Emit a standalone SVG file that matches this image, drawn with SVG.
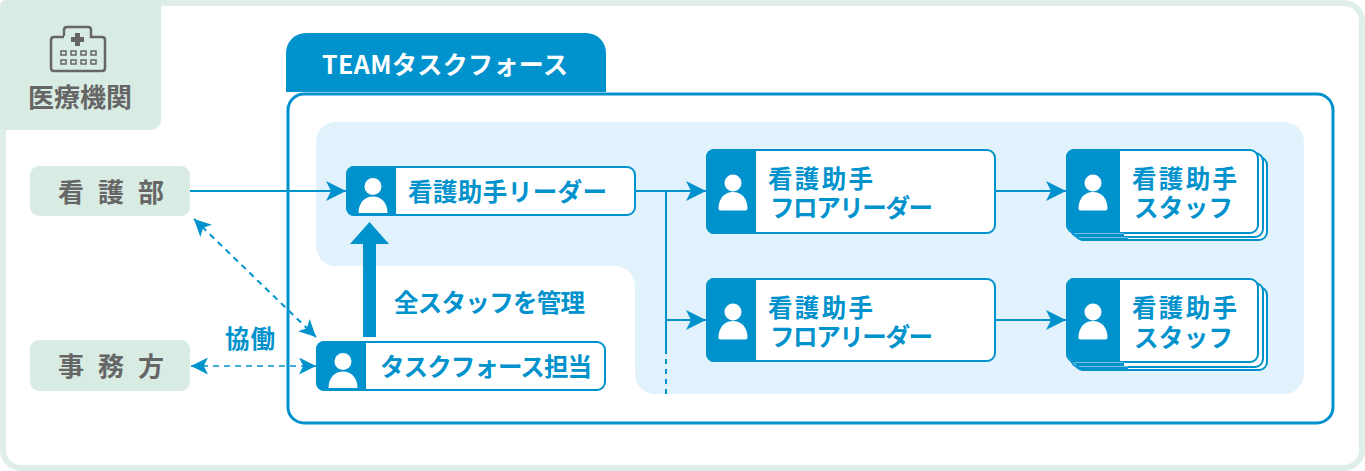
<svg xmlns="http://www.w3.org/2000/svg" width="1365" height="471" viewBox="0 0 1365 471">
<style>
text{font-family:"Noto Sans CJK JP","Noto Sans",sans-serif;font-weight:700}
.b{fill:#0092cc}
.t{fill:#0092cc;font-size:24.500px}
.g{fill:#666;font-size:26px}
.box{fill:#fff;stroke:#0092cc;stroke-width:2}
.l{fill:none;stroke:#0092cc;stroke-width:2}
.d{fill:none;stroke:#0092cc;stroke-width:1.600;stroke-dasharray:6 5}
.e{fill:none;stroke:#6fc0e2;stroke-width:1}
.pg{fill:#d9ece4}
</style>
<defs>
<marker id="a" viewBox="0 0 20 20" refX="20" refY="10" markerWidth="20" markerHeight="20" markerUnits="userSpaceOnUse" orient="auto-start-reverse"><path d="M0 0 L20 10 L0 20 L5 10Z" fill="#0092cc"/></marker>
<marker id="s" viewBox="0 0 20 20" refX="20" refY="10" markerWidth="17" markerHeight="17" markerUnits="userSpaceOnUse" orient="auto-start-reverse"><path d="M0 0 L20 10 L0 20 L5 10Z" fill="#0092cc"/></marker>
<g id="p"><circle cy="1" r="8.500" fill="#fff"/><path d="M-14.500 26.500C-14.500 16-8 10 0 10S14.500 16 14.500 26.500Q14.500 28.500 12.500 28.500H-12.500Q-14.500 28.500-14.500 26.500Z" fill="#fff"/></g>
<g id="q"><circle r="8.500" fill="#fff"/><path d="M-14.500 26.500C-14.500 16-8 10 0 10S14.500 16 14.500 26.500Z" fill="#fff"/></g>
</defs>
<rect x="3" y="3" width="1359" height="465" rx="18" fill="#fff" stroke="#dfeee8" stroke-width="6"/>
<g id="org">
<path class="pg" d="M7 0H161V120a10 10 0 0 1-10 10H7Q0 130 0 123V7Q0 0 7 0Z"/>
<g fill="none" stroke="#666" stroke-width="2.500"><path d="M64 36V30q0-3 3-3H88q3 0 3 3V37H102q3 0 3 3V68q0 3-3 3H54q-3 0-3-3V40q0-3 3-3H64"/></g>
<path d="M75 33h5v4h4v5h-4v4h-5v-4h-4v-5h4z" fill="#666"/>
<g fill="none" stroke="#666" stroke-width="1.500"><path d="M61 51h5v4h-5zM71 51h5v4h-5zM81 51h5v4h-5zM91 51h5v4h-5zM61 60h5v4h-5zM71 60h5v4h-5zM81 60h5v4h-5zM91 60h5v4h-5z"/></g>
<text class="g" x="28" y="107" textLength="104">医療機関</text>
</g>
<g id="team">
<path class="b" d="M286 92V53a20 20 0 0 1 20-20H586a20 20 0 0 1 20 20V92Z"/>
<rect x="288" y="94" width="1045" height="329" rx="16" fill="#fff" stroke="#0092cc" stroke-width="3"/>
<text x="322" y="74" fill="#fff" font-size="25" textLength="246">TEAMタスクフォース</text>
<path d="M336 122H1284a20 20 0 0 1 20 20V374a20 20 0 0 1-20 20H655a20 20 0 0 1-20-20V286a20 20 0 0 0-20-20H336a20 20 0 0 1-20-20V142a20 20 0 0 1 20-20Z" fill="#e1f2fd"/>
</g>
<g id="connectors">
<path class="l" d="M190 191H346" marker-end="url(#a)"/>
<path class="l" d="M636 191H706" marker-end="url(#a)"/>
<path class="l" d="M666 191V349"/>
<path class="d" d="M666 349V394" style="stroke-dasharray:5 5;stroke-width:2"/>
<path class="l" d="M666 320H706" marker-end="url(#a)"/>
<path class="l" d="M996 191H1066" marker-end="url(#a)"/>
<path class="l" d="M996 320H1066" marker-end="url(#a)"/>
<path class="d" d="M194 219L316 337" marker-start="url(#s)" marker-end="url(#s)" style="stroke-width:2"/>
<path class="d" d="M191 366H316" marker-start="url(#s)" marker-end="url(#s)"/>
<path class="b" d="M363 337V244H350L369.500 222L389 244H376V337Z"/>
</g>
<text class="t" x="225" y="348" textLength="50">協働</text>
<text class="t" x="394" y="312" textLength="191">全スタッフを管理</text>
<g id="kango"><rect class="pg" x="30" y="166" width="160" height="50" rx="9"/><text class="g" x="58" y="202" textLength="106">看護部</text></g>
<g id="jimu"><rect class="pg" x="30" y="340" width="160" height="51" rx="9"/><text class="g" x="58" y="376" textLength="106">事務方</text></g>
<g id="leader"><rect class="box" x="347" y="167" width="288" height="48" rx="8"/><path class="b" d="M354 166H396V216H354a8 8 0 0 1-8-8V174a8 8 0 0 1 8-8Z"/><use href="#q" x="373" y="186.500"/><text class="t" x="408" y="201" textLength="199">看護助手リーダー</text></g>
<g id="tantou"><rect class="box" x="317" y="342" width="288" height="48" rx="8"/><path class="b" d="M324 341H366V391H324a8 8 0 0 1-8-8V349a8 8 0 0 1 8-8Z"/><use href="#q" x="343" y="361.500"/><text class="t" x="380" y="376" textLength="212">タスクフォース担当</text></g>
<g id="floor1"><rect class="box" x="707" y="150" width="288" height="83" rx="8"/><path class="b" d="M714 149H756V234H714a8 8 0 0 1-8-8V157a8 8 0 0 1 8-8Z"/><use href="#p" x="733" y="182"/><text class="t"><tspan x="768" y="188" textLength="105">看護助手</tspan><tspan x="770" y="217" textLength="163">フロアリーダー</tspan></text></g>
<g id="floor2"><rect class="box" x="707" y="279" width="288" height="82" rx="8"/><path class="b" d="M714 278H756V362H714a8 8 0 0 1-8-8V286a8 8 0 0 1 8-8Z"/><use href="#p" x="733" y="311"/><text class="t"><tspan x="768" y="317" textLength="105">看護助手</tspan><tspan x="770" y="346" textLength="163">フロアリーダー</tspan></text></g>
<g id="staff1"><rect class="box" x="1075" y="157" width="192" height="83" rx="8"/><rect class="box" x="1071" y="153" width="192" height="84" rx="8"/><rect class="box" x="1067" y="150" width="191" height="83" rx="8"/><path class="b" d="M1074 149H1120V226V234H1124V238H1128V241H1082L1066 226V157a8 8 0 0 1 8-8Z"/><path class="e" d="M1075 233.500H1124M1079 237.500H1128"/><use href="#p" x="1093" y="182"/><text class="t"><tspan x="1132" y="188" textLength="105">看護助手</tspan><tspan x="1134" y="217" textLength="99">スタッフ</tspan></text></g>
<g id="staff2"><rect class="box" x="1075" y="287" width="192" height="83" rx="8"/><rect class="box" x="1071" y="283" width="192" height="84" rx="8"/><rect class="box" x="1067" y="279" width="191" height="83" rx="8"/><path class="b" d="M1074 278H1120V363H1124V367H1128V371H1082L1066 355V286a8 8 0 0 1 8-8Z"/><path class="e" d="M1075 362.500H1124M1079 366.500H1128"/><use href="#p" x="1093" y="311"/><text class="t"><tspan x="1132" y="317" textLength="105">看護助手</tspan><tspan x="1134" y="347" textLength="99">スタッフ</tspan></text></g>
</svg>
